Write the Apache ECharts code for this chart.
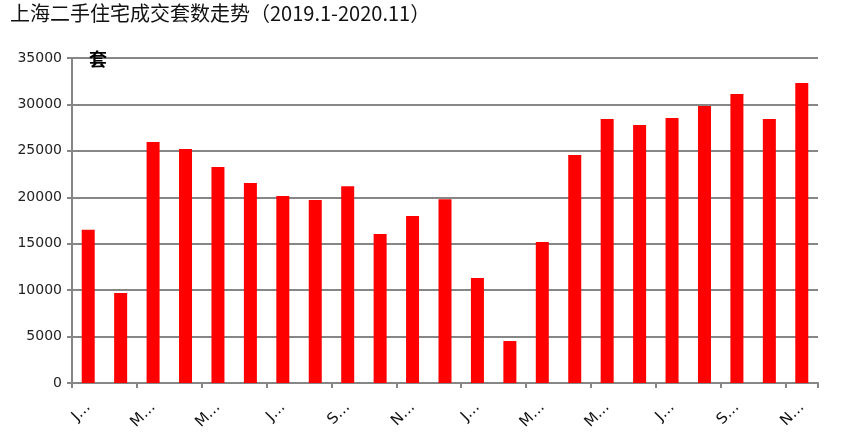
<!DOCTYPE html>
<html>
<head>
<meta charset="utf-8">
<script src="https://cdn.jsdelivr.net/npm/echarts@6/dist/echarts.min.js"></script>
<style>
html,body{margin:0;padding:0;background:#fff;}
#chart{width:854px;height:445px;}
</style>
</head>
<body>
<div id="chart"></div>
<script>
var categories = ["Jan-19","Feb-19","Mar-19","Apr-19","May-19","Jun-19","Jul-19","Aug-19","Sep-19","Oct-19","Nov-19","Dec-19",
                  "Jan-20","Feb-20","Mar-20","Apr-20","May-20","Jun-20","Jul-20","Aug-20","Sep-20","Oct-20","Nov-20"];
var deals = [16500, 9700, 25950, 25200, 23250, 21550, 20150, 19700, 21200, 16050, 17980, 19800,
             11300, 4520, 15180, 24550, 28430, 27780, 28540, 29830, 31120, 28430, 32300];
var yTicks = [0, 5000, 10000, 15000, 20000, 25000, 30000, 35000];
var titleText = "上海二手住宅成交套数走势（2019.1-2020.11）";
var unitText = "套";

var chart = echarts.init(document.getElementById('chart'));
chart.setOption({
  animation: false,
  title: [
    {text: titleText, left: 5, top: -2,
     textStyle: {fontFamily: "Noto Sans CJK SC", fontSize: 20, fontWeight: 'normal', color: '#111'}},
    {text: unitText, left: 84, top: 45,
     textStyle: {fontFamily: "Noto Sans CJK SC", fontSize: 18, fontWeight: 'bold', color: '#000'}}
  ],
  grid: {left: 72, right: 36, top: 58, bottom: 62, containLabel: false},
  xAxis: {
    type: 'category',
    data: categories,
    boundaryGap: true,
    axisLine: {lineStyle: {color: '#868686', width: 2}},
    axisTick: {show: true, interval: 1, length: 5, alignWithLabel: false, lineStyle: {color: '#868686', width: 2}},
    axisLabel: {
      interval: 1, rotate: 45, margin: 22,
      fontFamily: 'DejaVu Sans', fontSize: 15, color: '#111',
      formatter: function (v) { return v.charAt(0) + '…'; }
    }
  },
  yAxis: {
    type: 'value',
    min: yTicks[0], max: yTicks[yTicks.length - 1], interval: yTicks[1] - yTicks[0],
    axisLine: {show: true, lineStyle: {color: '#868686', width: 2}},
    axisTick: {show: true, length: 5, lineStyle: {color: '#868686', width: 2}},
    splitLine: {show: true, lineStyle: {color: '#868686', width: 2}},
    axisLabel: {margin: 10, fontFamily: 'DejaVu Sans', fontSize: 14, color: '#222',
      formatter: function (v) { return String(v); }}
  },
  series: [{
    type: 'bar',
    data: deals,
    barWidth: 13,
    itemStyle: {color: '#FF0000'}
  }]
});
</script>
</body>
</html>
